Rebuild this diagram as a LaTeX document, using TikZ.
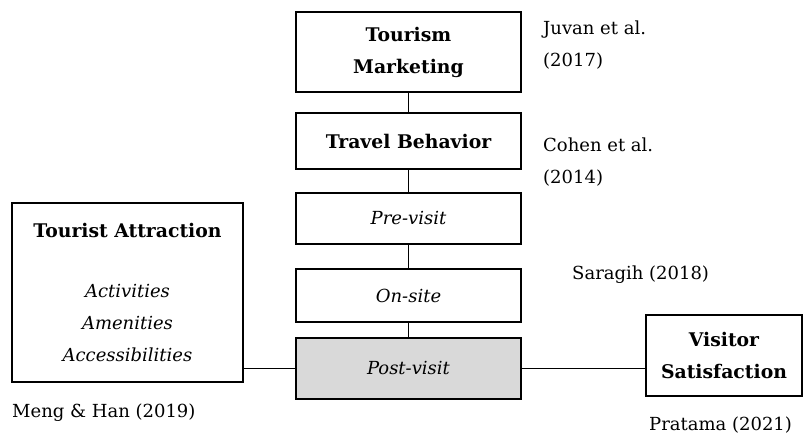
\documentclass[tikz,border=0pt]{standalone}
\usepackage{fontspec}
\setmainfont{DejaVu Serif}
\usepackage{tikz}
\usetikzlibrary{positioning}
\definecolor{postgray}{HTML}{D9D9D9}
\def\txtsize{\fontsize{18}{32}\selectfont}
\def\boldsize{\fontsize{18.8}{32}\selectfont}
\tikzset{
    box/.style={draw=black, line width=1.6pt, fill=white, align=center, inner sep=0pt, font=\txtsize},
    stagebox/.style={box, minimum width=225pt},
    citetext/.style={anchor=west, align=left, inner sep=0pt, font=\txtsize},
    link/.style={line width=1.5pt}
}

\begin{document}
\begin{tikzpicture}[x=1pt, y=-1pt]

    \useasboundingbox (0, 0) rectangle (803, 435);

    % central stages
    \node[stagebox, minimum height=80pt] (market) at (408.5, 52) {\boldsize\bfseries Tourism\\\boldsize\bfseries Marketing};
    \node[stagebox, minimum height=56pt] (travel) at (408.5, 141) {\boldsize\bfseries Travel Behavior};
    \node[stagebox, minimum height=51pt] (pre) at (408.5, 218.5) {\textit{Pre-visit}};
    \node[stagebox, minimum height=53pt] (onsite) at (408.5, 295.5) {\textit{On-site}};
    \node[stagebox, minimum height=61pt, fill=postgray] (post) at (408.5, 368.5) {\textit{Post-visit}};

    % sides
    \node[box, minimum width=231pt, minimum height=179pt] (attraction) at (127.5, 292.5)
        {{\boldsize\bfseries Tourist Attraction}\\[28pt]\textit{Activities}\\\textit{Amenities}\\\textit{Accessibilities}};
    \node[box, minimum width=156pt, minimum height=81pt] (visitor) at (724, 355.5)
        {\boldsize\bfseries Visitor\\\boldsize\bfseries Satisfaction};

    \draw[link] (market) -- (travel);
    \draw[link] (travel) -- (pre);
    \draw[link] (pre) -- (onsite);
    \draw[link] (onsite) -- (post);
    \draw[link] (attraction.east |- post.west) -- (post.west);
    \draw[link] (post.east) -- (post.east -| visitor.west);

    % references
    \node[citetext] (juvan) at (543, 45) {Juvan et al.\\(2017)};
    \node[citetext] (cohen) at (543, 162) {Cohen et al.\\(2014)};
    \node[citetext] (saragih) at (572, 275) {Saragih (2018)};
    \node[citetext] (meng) at (12, 413) {Meng \& Han (2019)};
    \node[citetext] (pratama) at (649, 425) {Pratama (2021)};

\end{tikzpicture}
\end{document}
